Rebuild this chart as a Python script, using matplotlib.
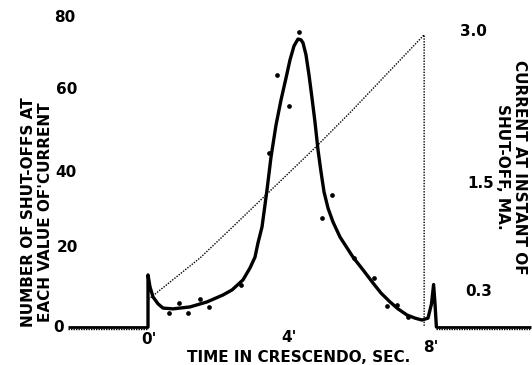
import matplotlib
matplotlib.use("Agg")
import matplotlib.pyplot as plt

# ---- data (time in seconds, count of shut-offs) ----
curve_t = [0.0, 0.0, 0.057, 0.143, 0.286, 0.429, 0.714, 1.2, 1.686, 2.143, 2.4, 2.714,
           2.914, 3.057, 3.143, 3.257, 3.4, 3.514, 3.657, 3.8, 3.943, 4.057, 4.171, 4.286,
           4.371, 4.429, 4.514, 4.6, 4.686, 4.771, 4.857, 4.943, 5.029, 5.143, 5.286, 5.486,
           5.686, 5.857, 6.143, 6.429, 6.657, 6.914, 7.143, 7.4, 7.629, 7.829, 8.0,
           8.1, 8.16, 8.2, 8.24]
curve_n = [0.0, 13.5, 10.4, 7.8, 6.0, 4.9, 4.7, 5.2, 6.5, 8.3, 9.6, 12.2,
           15.3, 18.1, 21.8, 25.9, 35.5, 44.0, 52.3, 58.8, 64.5, 69.2, 72.8, 74.6,
           74.4, 73.6, 70.5, 65.3, 59.3, 53.1, 45.9, 40.2, 35.0, 30.8, 27.2, 23.3,
           20.5, 18.1, 14.8, 11.4, 8.8, 6.5, 4.7, 3.1, 2.3, 1.8, 2.3,
           6.0, 11.0, 6.0, 0.0]

dots_t = [0.60, 0.89, 1.14, 1.49, 1.74, 2.66, 3.46, 3.69, 4.03, 4.31, 4.97, 5.26, 5.89,
          6.46, 6.83, 7.11, 7.43]
dots_n = [3.6, 6.2, 3.6, 7.3, 5.2, 10.9, 45.1, 65.3, 57.3, 76.4, 28.2, 34.2, 17.9,
          12.7, 5.4, 5.7, 2.6]

# current at instant of shut-off (ma)
cur_t = [0.0, 0.0, 1.49, 2.34, 4.8, 5.77, 7.89, 7.89]
cur_ma = [0.0, 0.28, 0.71, 1.0, 1.85, 2.2, 3.0, 0.0]

# zero baselines before and after the crescendo
base_left_t = [-2.3, 0.0]
base_right_t = [8.24, 10.95]

left_ticks = [0, 20, 40, 60, 80]
right_ticks = ["3.0", "1.5", "0.3"]
x_ticks = ["0'", "4'", "8'"]

W, H = 532, 365
fig = plt.figure(figsize=(W / 100, H / 100), dpi=100)
ax = fig.add_axes([0, 0, 1, 1])
ax.set_xlim(-148 / 35, (W - 148) / 35)
ax.set_ylim((327 - H) / 3.86, 327 / 3.86)
ax.axis("off")
ax2 = ax.twinx()
ax2.set_ylim((327 - H) / 97.4, 327 / 97.4)
ax2.axis("off")

# baselines (hatched look)
for bt in (base_left_t, base_right_t):
    ax.plot(bt, [0, 0], color="black", lw=2.0, solid_capstyle="butt")
    ax.plot(bt, [-0.6, -0.6], color="black", lw=1.0, ls=(0, (1, 0.8)))

# main smoothed curve
ax.plot(curve_t, curve_n, color="black", lw=2.4,
        solid_joinstyle="round", solid_capstyle="round")
ax.plot(dots_t, dots_n, "o", color="black", ms=3.4, mew=0)

# current line
ax2.plot(cur_t, cur_ma, color="black", lw=1.0, ls=(0, (1, 1)))

fs = 11
def ftext(x, y, s, **kw):
    fig.text(x / W, 1 - y / H, s, ha="center", va="center", fontsize=fs,
             color="black", fontweight="bold", **kw)

left_pos = [(59, 328), (67, 248), (66, 173), (67, 90), (65, 18)]
for v, (x, y) in zip(left_ticks, left_pos):
    ftext(x, y, str(v))
right_pos = [(473, 32), (481, 183), (479, 292)]
for s, (x, y) in zip(right_ticks, right_pos):
    ftext(x, y, s)
x_pos = [(149, 340), (289, 337), (431, 347)]
for s, (x, y) in zip(x_ticks, x_pos):
    ftext(x, y, s)

ftext(299, 357, "TIME IN CRESCENDO, SEC.")
ftext(37, 212, "NUMBER OF SHUT-OFFS AT\nEACH VALUE OF'CURRENT", rotation=90,
      linespacing=1.2)
ftext(511, 167, "CURRENT AT INSTANT OF\nSHUT-OFF, MA.", rotation=-90,
      linespacing=1.2)

fig.savefig("out.png", dpi=100)
